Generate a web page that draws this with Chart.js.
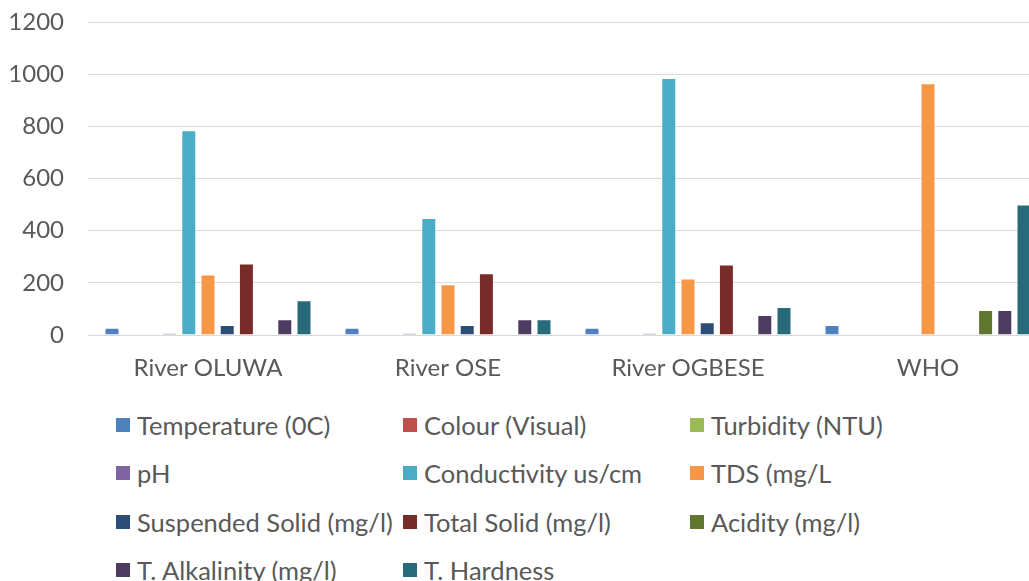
<!DOCTYPE html>
<html><head><meta charset="utf-8">
<script src="https://cdn.jsdelivr.net/npm/chart.js@4/dist/chart.umd.min.js"></script>
<style>
html,body{margin:0;padding:0;background:#fff;width:1029px;height:581px;overflow:hidden;}
#wrap{position:absolute;left:0;top:0;width:1050px;height:390px;}
#legend{position:absolute;left:116px;top:401px;display:grid;grid-template-columns:287px 287px 287px;font-family:Lato,sans-serif;font-size:25.5px;color:#595959;}
.item{display:flex;align-items:center;height:48.3px;white-space:nowrap;}
.sw{width:14px;height:14px;margin-right:7px;flex:none;}
</style></head><body>
<div id="wrap"><canvas id="c" width="1050" height="390"></canvas></div>
<div id="legend"></div>
<script>
const categories = ['River OLUWA', 'River OSE', 'River OGBESE', 'WHO'];
const seriesNames = ['Temperature (0C)', 'Colour (Visual)', 'Turbidity (NTU)', 'pH', 'Conductivity us/cm', 'TDS (mg/L', 'Suspended Solid (mg/l)', 'Total Solid (mg/l)', 'Acidity (mg/l)', 'T. Alkalinity (mg/l)', 'T. Hardness'];
const temperature  = [28, 28, 28, 38];
const colour       = [null, null, null, null];
const turbidity    = [null, null, null, null];
const ph           = [7, 7, 7, null];
const conductivity = [785, 449, 985, null];
const tds          = [232, 195, 217, 965];
const suspended    = [38, 38, 49, null];
const totalSolid   = [274, 237, 270, null];
const acidity      = [null, null, null, 96];
const alkalinity   = [60, 60, 77, 96];
const hardness     = [133, 60, 107, 500];
const yTicks = [0, 200, 400, 600, 800, 1000, 1200];

const seriesValues = [temperature, colour, turbidity, ph, conductivity, tds, suspended, totalSolid, acidity, alkalinity, hardness];
const colors = ['#4F81BD', '#C0504D', '#9BBB59', '#8064A2', '#4BACC6', '#F79646', '#2C4D75', '#772C2A', '#5F7530', '#4D3B62', '#276A7C'];

const datasets = seriesNames.map((name, i) => ({
  label: name,
  data: seriesValues[i],
  backgroundColor: colors[i],
  borderColor: 'rgba(255,255,255,0.45)',
  borderWidth: 1,
  categoryPercentage: 0.88,
  barPercentage: 0.78
}));

const font = {family: 'Lato', size: 24};
new Chart(document.getElementById('c'), {
  type: 'bar',
  data: {labels: categories, datasets},
  options: {
    responsive: false,
    animation: false,
    layout: {padding: {top: 22, left: 0, right: 2, bottom: 0}},
    plugins: {legend: {display: false}, tooltip: {enabled: false}},
    scales: {
      x: {
        grid: {display: false, drawTicks: false},
        border: {display: false},
        ticks: {font, color: '#595959', padding: 19, maxRotation: 0},
        afterFit(s) { s.height = 55; }
      },
      y: {
        min: 0, max: 1200,
        afterBuildTicks(s) { s.ticks = yTicks.map(v => ({value: v})); },
        grid: {color: '#d9d9d9', lineWidth: 1, drawTicks: false},
        border: {display: false},
        ticks: {font, color: '#595959', padding: 24, callback: v => String(v)},
        afterFit(s) { s.width = 88; s.paddingTop = 0; s.paddingBottom = 0; }
      }
    }
  }
});

const leg = document.getElementById('legend');
seriesNames.forEach((name, i) => {
  const it = document.createElement('div');
  it.className = 'item';
  const sw = document.createElement('span');
  sw.className = 'sw';
  sw.style.background = colors[i];
  const tx = document.createElement('span');
  tx.textContent = name;
  it.appendChild(sw); it.appendChild(tx);
  leg.appendChild(it);
});
</script>
</body></html>
